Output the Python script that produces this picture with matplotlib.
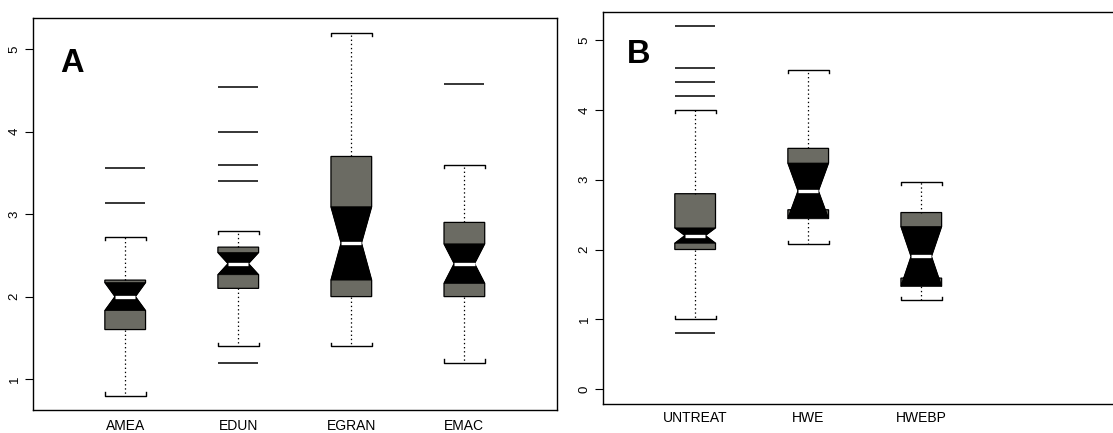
import matplotlib
matplotlib.use("Agg")
import matplotlib.pyplot as plt

plt.rcParams['font.family'] = ['Liberation Sans', 'DejaVu Sans']

# ---- Panel A: sites ----
a_groups = ["AMEA", "EDUN", "EGRAN", "EMAC"]
a_whislo = [0.80, 1.40, 1.40, 1.20]
a_q1 = [1.60, 2.10, 2.00, 2.00]
a_med = [2.00, 2.40, 2.65, 2.40]
a_q3 = [2.20, 2.60, 3.70, 2.90]
a_whishi = [2.72, 2.80, 5.20, 3.60]
a_cilo = [1.83, 2.265, 2.20, 2.16]
a_cihi = [2.17, 2.535, 3.09, 2.64]
a_fliers = [[3.14, 3.56], [1.20, 3.40, 3.60, 4.00, 4.54], [], [4.58]]

# ---- Panel B: treatments ----
b_groups = ["UNTREAT", "HWE", "HWEBP"]
b_whislo = [1.00, 2.08, 1.28]
b_q1 = [2.00, 2.57, 1.59]
b_med = [2.20, 2.84, 1.90]
b_q3 = [2.80, 3.45, 2.53]
b_whishi = [4.00, 4.58, 2.97]
b_cilo = [2.09, 2.44, 1.47]
b_cihi = [2.31, 3.24, 2.33]
b_fliers = [[0.80, 4.20, 4.40, 4.60, 5.20], [], []]

BOX_GRAY = '#6b6b63'
WIDTH = 0.36


def draw_panel(ax, groups, whislo, q1, med, q3, whishi, cilo, cihi, fliers,
               ylim, yticks, letter, letter_xy, label_pad):
    pos = list(range(1, len(groups) + 1))
    stats = [dict(label=g, whislo=wl, q1=lo, med=m, q3=hi, whishi=wh,
                  cilo=cl, cihi=ch, fliers=f)
             for g, wl, lo, m, hi, wh, cl, ch, f in
             zip(groups, whislo, q1, med, q3, whishi, cilo, cihi, fliers)]
    # notched grey boxes with dotted whiskers, staples and outlier dashes
    parts = ax.bxp(stats, positions=pos, widths=WIDTH, capwidths=WIDTH,
                   shownotches=True, patch_artist=True, showfliers=True,
                   manage_ticks=False,
                   boxprops=dict(facecolor=BOX_GRAY, edgecolor='black', linewidth=0.9),
                   whiskerprops=dict(color='black', linewidth=0.9,
                                     linestyle=(0, (1.1, 2.2))),
                   capprops=dict(color='black', linewidth=1.0),
                   flierprops=dict(marker='_', markersize=29.3,
                                   markeredgewidth=1.1, markeredgecolor='black'),
                   medianprops=dict(linewidth=0))

    # black hourglass between the notch limits, white median bar on top
    core = [dict(whislo=cl, q1=cl, med=m, q3=ch, whishi=ch,
                 cilo=cl, cihi=ch, fliers=[])
            for m, cl, ch in zip(med, cilo, cihi)]
    ax.bxp(core, positions=pos, widths=WIDTH, shownotches=True, patch_artist=True,
           showcaps=False, showfliers=False, manage_ticks=False,
           boxprops=dict(facecolor='black', edgecolor='black', linewidth=0.5),
           whiskerprops=dict(linewidth=0),
           medianprops=dict(color='white', linewidth=2.4, solid_capstyle='butt'))

    ax.set_xlim(0.187, 4.817)
    ax.set_ylim(*ylim)

    # staples with short end ticks pointing toward the box
    d = 0.008 * (ylim[1] - ylim[0])
    for i, cap in enumerate(parts['caps']):
        x0, x1 = cap.get_xdata()
        y = cap.get_ydata()[0]
        m = med[i // 2]
        s = d if y < m else -d
        cap.set_data([x0, x0, x1, x1], [y + s, y, y, y + s])

    ax.set_xticks(pos)
    ax.set_xticklabels(groups, fontsize=10)
    ax.tick_params(axis='x', length=0, pad=label_pad)
    ax.set_yticks(yticks)
    ax.set_yticklabels([str(t) for t in yticks], rotation=90, va='center',
                       fontsize=9.5)
    ax.tick_params(axis='y', direction='out', length=5.5, width=0.8, pad=3.6)
    for sp in ax.spines.values():
        sp.set_linewidth(1.0)
    ax.text(letter_xy[0], letter_xy[1], letter, transform=ax.transAxes,
            fontsize=23.5, fontweight='bold', ha='left', va='baseline')


fig = plt.figure(figsize=(11.13, 4.33), dpi=100)
ax_a = fig.add_axes([0.0299, 0.0531, 0.4703, 0.9046])
ax_b = fig.add_axes([0.5420, 0.0670, 0.4703, 0.9046])

draw_panel(ax_a, a_groups, a_whislo, a_q1, a_med, a_q3, a_whishi, a_cilo,
           a_cihi, a_fliers, (0.624, 5.376), [1, 2, 3, 4, 5], 'A',
           (0.052, 0.8637), 6.8)
draw_panel(ax_b, b_groups, b_whislo, b_q1, b_med, b_q3, b_whishi, b_cilo,
           b_cihi, b_fliers, (-0.215, 5.401), [0, 1, 2, 3, 4, 5], 'B',
           (0.046, 0.8698), 5.3)

fig.savefig('out.png', dpi=100)
